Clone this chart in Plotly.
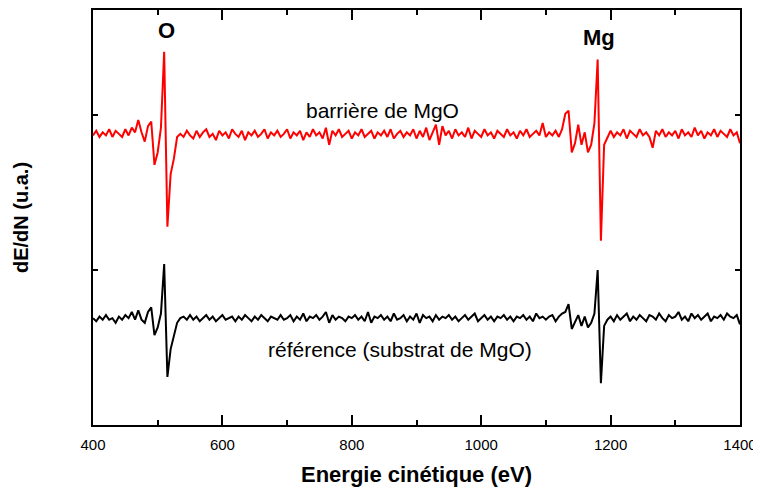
import numpy as np
import plotly.graph_objs as go

# kinetic energy grid (eV), one reading every 5 eV
energy = np.arange(400, 1401, 5)

# dE/dN, barrier spectrum (offset upward), arbitrary units
barriere = [
    187, 190, 186, 189, 187, 191, 186, 190, 188, 186,   # 400-445
    191, 187, 192, 189, 197, 189, 183, 193, 196, 168,   # 450-495
    176, 192, 241, 128, 162, 172, 186, 188, 186, 190,   # 500-545
    187, 185, 190, 186, 189, 191, 186, 188, 184, 190,   # 550-595
    187, 189, 185, 191, 188, 186, 190, 184, 189, 187,   # 600-645
    190, 186, 188, 191, 185, 189, 187, 190, 186, 188,   # 650-695
    191, 185, 189, 187, 190, 184, 189, 186, 191, 187,   # 700-745
    189, 185, 192, 181, 190, 187, 191, 186, 188, 190,   # 750-795
    185, 189, 187, 191, 186, 188, 190, 185, 189, 187,   # 800-845
    190, 186, 191, 185, 188, 190, 186, 189, 187, 191,   # 850-895
    185, 190, 186, 192, 184, 189, 194, 181, 193, 187,   # 900-945
    190, 185, 191, 187, 189, 186, 192, 185, 190, 188,   # 950-995
    186, 191, 187, 189, 185, 190, 188, 186, 191, 187,   # 1000-1045
    189, 185, 190, 187, 191, 186, 188, 190, 187, 195,   # 1050-1095
    186, 189, 187, 190, 186, 191, 201, 203, 176, 182,   # 1100-1145
    194, 181, 189, 176, 181, 195, 236, 119, 181, 186,   # 1150-1195
    190, 186, 189, 187, 191, 185, 190, 188, 186, 191,   # 1200-1245
    187, 189, 186, 179, 190, 187, 191, 186, 189, 187,   # 1250-1295
    190, 185, 191, 187, 189, 186, 192, 187, 190, 185,   # 1300-1345
    189, 187, 191, 186, 190, 188, 186, 191, 187, 189,   # 1350-1395
    182,
]

# dE/dN, reference MgO substrate
reference = [
    69, 67, 70, 68, 71, 68, 69, 66, 70, 68,
    71, 69, 73, 68, 74, 68, 66, 73, 76, 58,
    63, 72, 104, 31, 49, 58, 66, 69, 70, 68,
    71, 68, 70, 67, 69, 71, 68, 70, 67, 69,
    71, 68, 69, 70, 67, 70, 68, 71, 69, 67,
    70, 68, 71, 69, 67, 70, 69, 68, 71, 68,
    69, 71, 67, 70, 68, 72, 67, 70, 69, 71,
    68, 70, 73, 66, 71, 68, 70, 69, 67, 70,
    69, 71, 68, 70, 67, 73, 66, 70, 69, 71,
    68, 70, 67, 72, 68, 69, 71, 67, 70, 68,
    72, 66, 71, 69, 70, 67, 71, 68, 70, 69,
    71, 68, 70, 67, 69, 71, 68, 70, 72, 67,
    69, 71, 68, 70, 67, 70, 69, 71, 68, 70,
    67, 70, 69, 71, 68, 70, 67, 72, 69, 70,
    68, 70, 71, 67, 70, 72, 73, 78, 62, 67,
    71, 64, 70, 63, 66, 72, 100, 27, 64, 68,
    70, 67, 71, 68, 70, 72, 67, 70, 68, 71,
    69, 67, 71, 70, 68, 72, 69, 67, 71, 69,
    70, 73, 68, 70, 67, 72, 69, 71, 68, 70,
    72, 67, 70, 69, 71, 68, 72, 70, 69, 71,
    65,
]

peak_labels = ["O", "Mg"]
peak_energy = [514, 1182]
peak_y = [255, 250]

FONT = "Arial, Liberation Sans, sans-serif"

fig = go.Figure()
fig.add_trace(go.Scatter(x=energy, y=barriere, mode="lines",
                         line=dict(color="#ff0000", width=2)))
fig.add_trace(go.Scatter(x=energy, y=reference, mode="lines",
                         line=dict(color="black", width=2)))

for lab, xe, ye in zip(peak_labels, peak_energy, peak_y):
    fig.add_annotation(x=xe, y=ye, text=f"<b>{lab}</b>", showarrow=False,
                       font=dict(size=22, color="black", family=FONT))

fig.add_annotation(x=847, y=203, text="barrière de MgO", showarrow=False,
                   font=dict(size=21, color="black", family=FONT))
fig.add_annotation(x=875, y=49, text="référence (substrat de MgO)", showarrow=False,
                   font=dict(size=21, color="black", family=FONT))

# page body has an 8px margin, so the figure is a bit smaller than the window
fig.update_layout(
    width=753, height=485,
    margin=dict(l=85, r=21, t=0, b=68),
    plot_bgcolor="white", paper_bgcolor="white",
    showlegend=False,
    font=dict(family=FONT, color="black", size=15),
)
fig.update_xaxes(
    range=[400, 1400], dtick=200, tick0=400,
    showline=True, linecolor="black", linewidth=2, mirror="ticks",
    ticks="inside", ticklen=10, tickwidth=1.5, tickcolor="black",
    minor=dict(dtick=100, ticks="inside", ticklen=5, tickwidth=1.5, tickcolor="black"),
    showgrid=False, zeroline=False,
    tickfont=dict(size=15), ticklabelstandoff=5,
    title=dict(text="<b>Energie cinétique (eV)</b>", font=dict(size=22), standoff=15),
)
fig.update_yaxes(
    range=[0, 268], tickvals=[0, 100, 200], showticklabels=False,
    showline=True, linecolor="black", linewidth=2, mirror="ticks",
    ticks="inside", ticklen=5, tickwidth=1.5, tickcolor="black",
    showgrid=False, zeroline=False,
    title=dict(text="<b>dE/dN (u.a.)</b>", font=dict(size=20), standoff=57),
)

fig.write_html("out.html")
